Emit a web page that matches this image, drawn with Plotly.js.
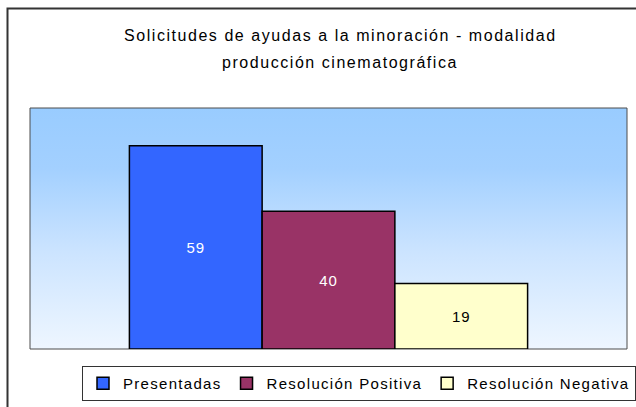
<!DOCTYPE html>
<html>
<head>
<meta charset="utf-8">
<script src="https://cdn.plot.ly/plotly-3.0.1.min.js"></script>
<style>
  html, body { margin: 0; padding: 0; background: #fff; }
  #chart { width: 636px; height: 407px; }
  .legendtext { letter-spacing: 1.3px; }
  .annotation-text { letter-spacing: 1.55px; }
  .bartext { letter-spacing: 0.8px; }
</style>
</head>
<body>
<div id="chart"></div>
<script>
// ---- data ----
const titleLines = ['Solicitudes de ayudas a la minoración - modalidad', 'producción cinematográfica'];
const groupLabel = ['Solicitudes'];
const seriesNames = ['Presentadas', 'Resolución Positiva', 'Resolución Negativa'];
const seriesValues = [59, 40, 19];
const seriesColors = ['#3366FF', '#993366', '#FFFFCC'];
const labelColors = ['#FFFFFF', '#FFFFFF', '#000000'];

// ---- geometry helpers (page pixels -> paper coords) ----
const W = 636, H = 407;
const M = { l: 30, r: 9, t: 108, b: 58 };
const pw = W - M.l - M.r, ph = H - M.t - M.b;
const px = x => (x - M.l) / pw;
const py = y => (H - M.b - y) / ph;

const traces = seriesNames.map((name, i) => ({
  type: 'bar',
  name: name,
  x: groupLabel,
  y: [seriesValues[i]],
  text: [String(seriesValues[i])],
  textposition: 'inside',
  insidetextanchor: 'middle',
  textangle: 0,
  textfont: { family: 'Liberation Sans, Arial, sans-serif', size: 15, color: labelColors[i] },
  marker: { color: seriesColors[i], line: { color: '#000000', width: 1.5 } },
  hoverinfo: 'skip'
}));

const gradSvg = "<svg xmlns='http://www.w3.org/2000/svg' width='100' height='100' preserveAspectRatio='none'>" +
  "<defs><linearGradient id='g' x1='0' y1='0' x2='0' y2='1'>" +
  "<stop offset='0' stop-color='#99CCFF'/><stop offset='0.25' stop-color='#A3D0FF'/>" +
  "<stop offset='0.6' stop-color='#CCE4FF'/><stop offset='1' stop-color='#EEF6FF'/>" +
  "</linearGradient></defs><rect width='100' height='100' fill='url(#g)'/></svg>";
const gradUri = 'data:image/svg+xml;charset=utf-8,' + encodeURIComponent(gradSvg);

const layout = {
  width: W, height: H,
  margin: M,
  paper_bgcolor: '#FFFFFF',
  plot_bgcolor: 'rgba(0,0,0,0)',
  font: { family: 'Liberation Sans, Arial, sans-serif', size: 15, color: '#000000' },
  barmode: 'group',
  bargap: 0.333,
  bargroupgap: 0,
  showlegend: true,
  xaxis: { showticklabels: false, showgrid: false, zeroline: false, showline: false, fixedrange: true },
  yaxis: { range: [0, 70], showticklabels: false, showgrid: false, zeroline: false, showline: false, fixedrange: true },
  images: [{
    source: gradUri, xref: 'paper', yref: 'paper', x: 0, y: 1, sizex: 1, sizey: 1,
    xanchor: 'left', yanchor: 'top', sizing: 'stretch', layer: 'below'
  }],
  shapes: [
    { type: 'rect', xref: 'paper', yref: 'paper', x0: 0, x1: 1, y0: 0, y1: 1,
      line: { color: '#4D4D4D', width: 1 }, fillcolor: 'rgba(0,0,0,0)', layer: 'below' },
    { type: 'rect', xref: 'paper', yref: 'paper', x0: px(7.5), x1: px(660), y0: py(430), y1: py(8.5),
      line: { color: '#333333', width: 2 }, fillcolor: 'rgba(0,0,0,0)' }
  ],
  annotations: titleLines.map((t, i) => ({
    text: t, xref: 'paper', yref: 'paper', x: px(340), y: py(i === 0 ? 35.5 : 62),
    xanchor: 'center', yanchor: 'middle', showarrow: false,
    font: { family: 'Liberation Sans, Arial, sans-serif', size: 16, color: '#000000' }
  })),
  legend: {
    orientation: 'h', xref: 'paper', x: px(368), xanchor: 'center',
    yref: 'container', y: 1 - 366 / H, yanchor: 'top',
    bordercolor: '#333333', borderwidth: 1, bgcolor: '#FFFFFF',
    font: { family: 'Liberation Sans, Arial, sans-serif', size: 15, color: '#000000' },
    itemwidth: 30, traceorder: 'normal', tracegroupgap: 0
  }
};

Plotly.newPlot('chart', traces, layout, { displayModeBar: false, staticPlot: true });
</script>
</body>
</html>
